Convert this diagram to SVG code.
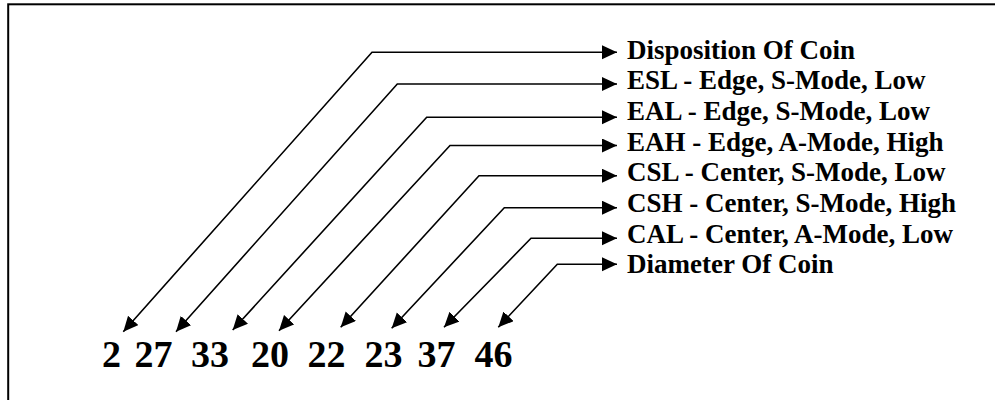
<svg xmlns="http://www.w3.org/2000/svg" width="995" height="400" viewBox="0 0 995 400">
<style>
.lbl{font-family:"Liberation Serif","Times New Roman",serif;font-weight:bold;font-size:27px;fill:#000}
.num{font-family:"Liberation Serif","Times New Roman",serif;font-weight:bold;font-size:38px;fill:#000}
.conn path{fill:none;stroke:#000;stroke-width:1.6;marker-start:url(#ah);marker-end:url(#ah)}
</style>
<defs>
<marker id="ah" markerUnits="userSpaceOnUse" markerWidth="16" markerHeight="15" refX="15" refY="7" orient="auto-start-reverse" viewBox="0 0 16 15">
<path d="M0,0 L15,7 L0,14 z" fill="#000"/>
</marker>
</defs>
<rect x="8.2" y="4.3" width="1000" height="420" fill="none" stroke="#000" stroke-width="2"/>
<g class="conn" id="connectors">
<path d="M123.3,331.7 L372,52.3 L617,52.3"/>
<path d="M176,331.7 L397.3,84 L617,84"/>
<path d="M232.7,330 L426.7,117.3 L617,117.3"/>
<path d="M279,330.7 L450,145.5 L617,145.5"/>
<path d="M340.7,327.3 L479,175.7 L617,175.7"/>
<path d="M391.7,328.3 L504.3,207.7 L617,207.7"/>
<path d="M444,327.3 L531,238.3 L617,238.3"/>
<path d="M498.3,327.3 L557.3,264.3 L617,264.3"/>
</g>
<g id="labels">
<text class="lbl" x="627" y="58.7">Disposition Of Coin</text>
<text class="lbl" x="627" y="89.4">ESL - Edge, S-Mode, Low</text>
<text class="lbl" x="627" y="120">EAL - Edge, S-Mode, Low</text>
<text class="lbl" x="627" y="150.7">EAH - Edge, A-Mode, High</text>
<text class="lbl" x="627" y="181.3">CSL - Center, S-Mode, Low</text>
<text class="lbl" x="627" y="212">CSH - Center, S-Mode, High</text>
<text class="lbl" x="627" y="242.7">CAL - Center, A-Mode, Low</text>
<text class="lbl" x="627" y="273.3">Diameter Of Coin</text>
</g>
<g id="numbers">
<text class="num" x="102" y="367">2</text>
<text class="num" x="134.5" y="367">27</text>
<text class="num" x="191" y="367">33</text>
<text class="num" x="251" y="367">20</text>
<text class="num" x="307.5" y="367">22</text>
<text class="num" x="364.5" y="367">23</text>
<text class="num" x="417.5" y="367">37</text>
<text class="num" x="474.5" y="367">46</text>
</g>
</svg>
